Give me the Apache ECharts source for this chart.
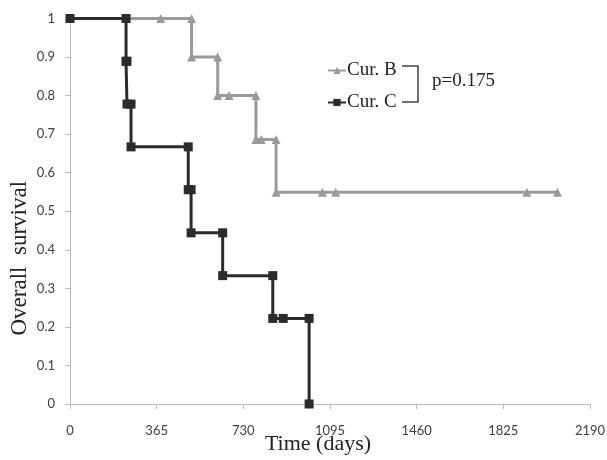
<!DOCTYPE html>
<html>
<head>
<meta charset="utf-8">
<script src="https://cdn.jsdelivr.net/npm/echarts@6/dist/echarts.min.js"></script>
<style>
  html, body { margin: 0; padding: 0; background: #fff; }
  #chart { width: 607px; height: 460px; }
</style>
</head>
<body>
<div id="chart"></div>
<script>
// step points: [days, survival]
var curB = [[0, 1], [382, 1], [512, 1], [512, 0.9], [622, 0.9], [622, 0.8], [670, 0.8],
    [783, 0.8], [783, 0.686], [805, 0.686], [868, 0.686], [868, 0.549],
    [1063, 0.549], [1119, 0.549], [1924, 0.549], [2053, 0.549]];
var curC = [[0, 1], [236, 1], [236, 0.889], [240, 0.889], [240, 0.778], [257, 0.778],
    [257, 0.667], [498, 0.667], [498, 0.556], [510, 0.556], [510, 0.444], [643, 0.444],
    [643, 0.333], [854, 0.333], [854, 0.222], [898, 0.222], [1007, 0.222], [1007, 0]];
var xTicks = [0, 365, 730, 1095, 1460, 1825, 2190];
var pText = 'p=0.175';

var serif = '"Liberation Serif", "DejaVu Serif", serif';
var sans = 'Lato, "Open Sans", sans-serif';
var axisGray = '#bcbcbc';

var chart = echarts.init(document.getElementById('chart'));
chart.setOption({
    animation: false,
    backgroundColor: '#fff',
    grid: { left: 70, right: 17, top: 18.5, bottom: 56, containLabel: false, outerBoundsMode: 'none' },
    legend: {
        orient: 'vertical',
        left: 322,
        top: 56,
        itemWidth: 18,
        itemHeight: 9,
        itemGap: 13,
        textStyle: { fontFamily: serif, fontSize: 19, color: '#222', lineHeight: 19, padding: [0, 0, 0, -4] },
        data: ['Cur. B', 'Cur. C']
    },
    xAxis: {
        type: 'value',
        min: xTicks[0],
        max: xTicks[xTicks.length - 1],
        interval: 365,
        name: 'Time (days)',
        nameLocation: 'middle',
        nameGap: 29,
        nameMoveOverlap: false,
        nameTextStyle: { fontFamily: serif, fontSize: 22, color: '#222', padding: [0, 24, 0, 0] },
        axisLine: { lineStyle: { color: axisGray, width: 1 } },
        axisTick: { show: true, length: 5, lineStyle: { color: axisGray } },
        axisLabel: {
            margin: 20, fontFamily: sans, fontSize: 13, color: '#404040',
            formatter: function (v) { return String(v); }
        },
        splitLine: { show: false }
    },
    yAxis: {
        type: 'value',
        min: 0,
        max: 1,
        interval: 0.1,
        name: 'Overall  survival',
        nameLocation: 'middle',
        nameGap: 39,
        nameMoveOverlap: false,
        nameTextStyle: { fontFamily: serif, fontSize: 23, color: '#222', padding: [0, 94, 0, 0] },
        axisLine: { show: true, lineStyle: { color: axisGray, width: 1 } },
        axisTick: { show: true, length: 5, lineStyle: { color: axisGray } },
        axisLabel: { margin: 15, fontFamily: sans, fontSize: 13, color: '#404040' },
        splitLine: { show: false }
    },
    series: [
        {
            name: 'Cur. B',
            type: 'line',
            data: curB,
            symbol: 'triangle',
            symbolSize: 9,
            color: '#9a9a9a',
            lineStyle: { width: 3, color: '#9a9a9a' },
            itemStyle: { color: '#9a9a9a' }
        },
        {
            name: 'Cur. C',
            type: 'line',
            data: curC,
            symbol: 'rect',
            symbolSize: 9,
            color: '#2b2b2b',
            lineStyle: { width: 3, color: '#2b2b2b' },
            itemStyle: { color: '#2b2b2b' }
        }
    ],
    graphic: [
        {
            type: 'polyline',
            shape: { points: [[402, 66], [418, 66], [418, 102], [402, 102]] },
            style: { stroke: '#444', lineWidth: 1.5, fill: null }
        },
        {
            type: 'text',
            left: 432,
            top: 72,
            style: { text: pText, font: '19px ' + serif, fill: '#222' }
        }
    ]
});
</script>
</body>
</html>
